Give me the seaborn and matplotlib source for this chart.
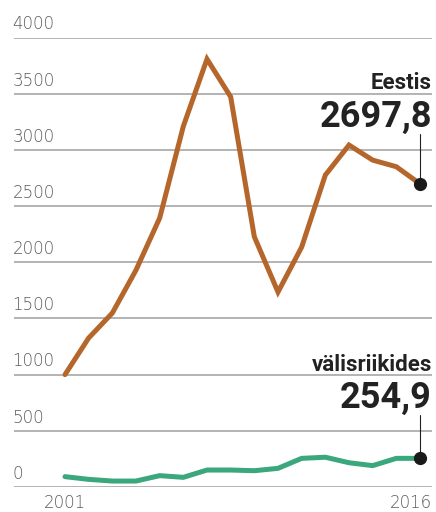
import numpy as np
import pandas as pd
import seaborn as sns
import matplotlib
matplotlib.use("Agg")
import matplotlib.pyplot as plt
from matplotlib.transforms import ScaledTranslation, blended_transform_factory

years = list(range(2001, 2017))
eestis = [1000, 1326, 1548, 1930, 2393, 3210, 3808, 3472, 2227, 1735,
          2135, 2776, 3043, 2909, 2850, 2697.8]
valisriikides = [92, 68, 53, 53, 101, 86, 151, 151, 145, 166,
                 255, 265, 216, 190, 255, 254.9]
series_names = ["Eestis", "välisriikides"]
end_labels = ["2697,8", "254,9"]
y_ticks = [0, 500, 1000, 1500, 2000, 2500, 3000, 3500, 4000]
x_ticks = [2001, 2016]

colors = {"Eestis": "#b5662b", "välisriikides": "#3aa77c"}

df = pd.DataFrame({
    "year": years * 2,
    "value": eestis + valisriikides,
    "series": [series_names[0]] * len(years) + [series_names[1]] * len(years),
})

sns.set_theme(style="white")
plt.rcParams["font.family"] = ["DejaVu Sans"]

fig = plt.figure(figsize=(4.36, 5.12), dpi=100)
ax = fig.add_axes([14 / 436, 25 / 512, (432 - 14) / 436, (487 - 37.5) / 512])

sns.lineplot(data=df, x="year", y="value", hue="series", palette=colors,
             linewidth=3.6, legend=False, ax=ax, zorder=3)
for line in ax.lines:
    line.set_clip_on(False)
    line.set_solid_joinstyle("miter")

ax.set_xlim(2001 - 51 / 23.67, 2016 + 12 / 23.67)
ax.set_ylim(0, 4000)

for s in ax.spines.values():
    s.set_visible(False)
ax.set_yticks(y_ticks)
ax.set_yticklabels([str(v) for v in y_ticks])
ax.yaxis.grid(True, color="#b3b3b3", linewidth=1.4)
ax.set_axisbelow(True)
ax.tick_params(axis="y", length=0, pad=1, labelsize=12, labelcolor="#5a5a5a")
for lab in ax.get_yticklabels():
    lab.set_ha("left")
    lab.set_va("bottom")
    lab.set_fontweight(200)
    lab.set_transform(lab.get_transform() + ScaledTranslation(0, 3 / 72, fig.dpi_scale_trans))

ax.set_xticks(x_ticks)
ax.set_xticklabels([str(v) for v in x_ticks])
ax.tick_params(axis="x", length=0, pad=5, labelsize=12, labelcolor="#5a5a5a")
xl = ax.get_xticklabels()
for lab in xl:
    lab.set_fontweight(200)
xl[-1].set_ha("right")
xl[-1].set_transform(xl[-1].get_transform() + ScaledTranslation(12 / 100, 0, fig.dpi_scale_trans))
ax.set_xlabel("")
ax.set_ylabel("")

# end markers and labels (offsets in data units above the last point)
trans_x_right = blended_transform_factory(ax.transAxes, ax.transData)
finals = [eestis[-1], valisriikides[-1]]
num_offsets = [505, 450]
name_gaps = [338, 327]
for name, val, lbl, off, gap in zip(series_names, finals, end_labels, num_offsets, name_gaps):
    ax.plot([years[-1]], [val], "o", color="#1a1a1a", markersize=8.5, zorder=5, clip_on=False)
    ax.plot([years[-1], years[-1]], [val, val + off - 60], color="#222222",
            linewidth=0.8, zorder=4, clip_on=False)
    ax.text(1.0, val + off, lbl, transform=trans_x_right, ha="right", va="baseline",
            fontsize=26, fontweight="bold", family=["Roboto", "DejaVu Sans"],
            color="#222222")
    ax.text(1.0, val + off + gap, name, transform=trans_x_right, ha="right",
            va="baseline", fontsize=16, fontweight="bold",
            family=["Roboto", "DejaVu Sans"], color="#222222")

fig.savefig("out.png", dpi=100)
